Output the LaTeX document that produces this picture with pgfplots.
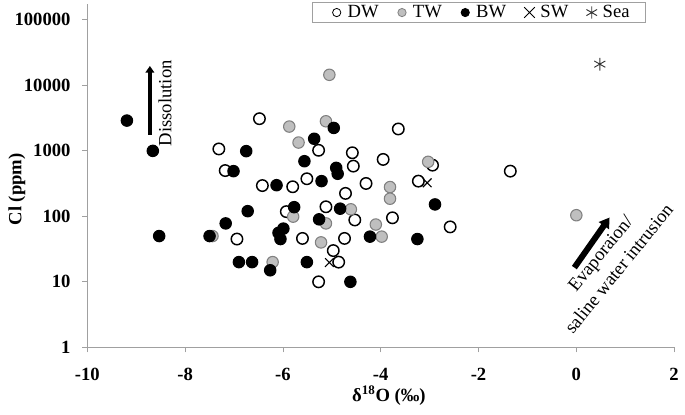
\documentclass[border=0pt]{standalone}
\usepackage{fontspec}
\setmainfont{Liberation Serif}
\usepackage{pgfplots}
\pgfplotsset{compat=1.18}
\usetikzlibrary{arrows.meta}
\definecolor{twfill}{HTML}{BFBFBF}
\definecolor{twedge}{HTML}{808080}
\definecolor{axgray}{HTML}{A0A0A0}
% small legend symbols, with fixed room around them
\pgfplotsset{
  legcirc/.style 2 args={legend image code/.code={%
    \path[draw=none, fill=none] (-7pt,0pt) -- (7.25pt,0pt);
    \draw[draw=#1, fill=#2, line width=0.6pt] (0pt,0pt) circle[radius=3.1pt];}},
  legx/.style={legend image code/.code={%
    \path[draw=none, fill=none] (-7pt,0pt) -- (7.25pt,0pt);
    \draw[line width=0.6pt] (-4pt,-4pt) -- (4pt,4pt) (-4pt,4pt) -- (4pt,-4pt);}},
  legast/.style={legend image code/.code={%
    \path[draw=none, fill=none] (-7pt,0pt) -- (7.25pt,0pt);
    \draw[line width=0.6pt, draw=black!80] plot[mark=asterisk, mark size=4.6pt] coordinates {(0pt,0pt)};}},
}

\begin{document}
\fontsize{14}{18}\selectfont
\begin{tikzpicture}
\begin{axis}[
  name=ax,
  scale only axis,
  width=441pt, height=258pt,
  xmin=-10, xmax=2,
  ymode=log, ymin=1, ymax=175000,
  axis x line*=bottom, axis y line*=left,
  axis line style={draw=axgray, line width=0.6pt},
  xtick={-10,-8,-6,-4,-2,0,2},
  xticklabels={-10,-8,-6,-4,-2,0,2},
  ytick={1,10,100,1000,10000,100000},
  yticklabels={1,10,100,1000,10000,100000},
  yminorticks=false,
  tick align=outside,
  major tick length=3.75pt,
  tick style={draw=axgray, line width=0.6pt},
  ticklabel style={font=\fontsize{14}{16}\selectfont\bfseries},
  xticklabel style={yshift=-7pt},
  yticklabel style={xshift=-4pt},
  xlabel={\bfseries δ\textsuperscript{18}O (‰)},
  ylabel={\bfseries Cl (ppm)},
  xlabel style={at={(axis description cs:0.514,-0.141)}, anchor=center, font=\fontsize{14}{16}\selectfont},
  ylabel style={at={(axis description cs:-0.12,0.46)}, anchor=center, font=\fontsize{14}{16}\selectfont},
  legend columns=5,
  legend style={at={(rel axis cs:0.3835,1.006)}, anchor=north west,
    draw=axgray, line width=0.6pt, inner xsep=11pt, inner ysep=1pt,
    nodes={inner sep=1pt},
    font=\fontsize{14}{16}\selectfont,
    /tikz/every odd column/.append style={column sep=0pt},
    /tikz/every even column/.append style={column sep=9.5pt}},
]
% DW
\addplot[only marks, mark=*, mark size=4.3pt,
  mark options={fill=white, draw=black, line width=1.1pt}, legcirc={black}{white}] coordinates {
(-6.48,3100) (-5.27,1020) (-7.31,1070) (-7.18,500) (-6.42,295) (-5.80,283)
(-5.51,375) (-4.58,935) (-4.56,585) (-3.95,740) (-3.64,2160) (-4.30,318)
(-4.72,224) (-3.23,345) (-2.94,605) (-1.35,490) (-5.93,118) (-5.12,140)
(-4.53,88) (-3.76,95) (-2.58,69) (-6.94,45) (-5.60,46) (-4.74,46)
(-4.97,30) (-4.86,20) (-5.27,10)
};
\addlegendentry{DW}
% TW
\addplot[only marks, mark=*, mark size=4.3pt,
  mark options={fill=twfill, draw=twedge, line width=0.8pt}, legcirc={twedge}{twfill}] coordinates {
(-5.05,14500) (-5.87,2350) (-5.68,1340) (-5.12,2830) (-3.03,680) (-3.81,280)
(-3.81,186) (-5.79,99) (-4.61,128) (-5.12,78) (-4.10,75) (-3.98,49)
(-5.22,40) (-6.21,20) (0.0,104) (-7.44,50)
};
\addlegendentry{TW}
% BW
\addplot[only marks, mark=*, mark size=4.3pt,
  mark options={fill=black, draw=black, line width=0.8pt}, legcirc={black}{black}] coordinates {
(-9.19,2900) (-8.66,1000) (-6.75,990) (-7.01,490) (-6.13,299) (-5.56,695)
(-5.36,1530) (-4.96,2240) (-4.91,550) (-4.88,447) (-5.21,345) (-6.72,120)
(-5.77,138) (-4.83,131) (-5.26,90) (-7.17,78) (-7.50,50) (-8.53,50)
(-5.99,65) (-6.09,56) (-6.05,45) (-4.22,49) (-3.25,45) (-2.89,152)
(-6.90,20) (-6.63,20) (-6.26,15) (-5.51,20) (-4.62,10)
};
\addlegendentry{BW}
% SW
\addplot[only marks, mark=x, mark size=4.6pt,
  mark options={draw=black, line width=0.8pt}, legx] coordinates {
(-3.05,325) (-5.05,19.7)
};
\addlegendentry{SW}
% Sea
\addplot[only marks, mark=asterisk, mark size=4.8pt,
  mark options={draw=black!80, line width=0.7pt}, legast] coordinates {
(0.48,21100)
};
\addlegendentry{Sea}

\draw[line width=3pt, -{Triangle[length=5pt,width=6.5pt]}]
  (axis cs:-8.72,1770) -- (axis cs:-8.72,19800);
\node[rotate=90, inner sep=0pt] at (axis cs:-8.41,5350) {Dissolution};
\draw[line width=4.5pt, -{Triangle[length=7.5pt,width=9pt]}]
  (axis cs:-0.04,16.5) -- (axis cs:0.68,96);
\node[rotate=51, align=center, inner sep=0pt] at (axis cs:0.68,20.8)
  {Evaporaion/\\saline water intrusion};
\end{axis}
\path[use as bounding box] ([xshift=-65.6pt,yshift=-50.8pt]ax.south west)
  rectangle ([xshift=7.1pt,yshift=3pt]ax.north east);
\end{tikzpicture}
\end{document}
